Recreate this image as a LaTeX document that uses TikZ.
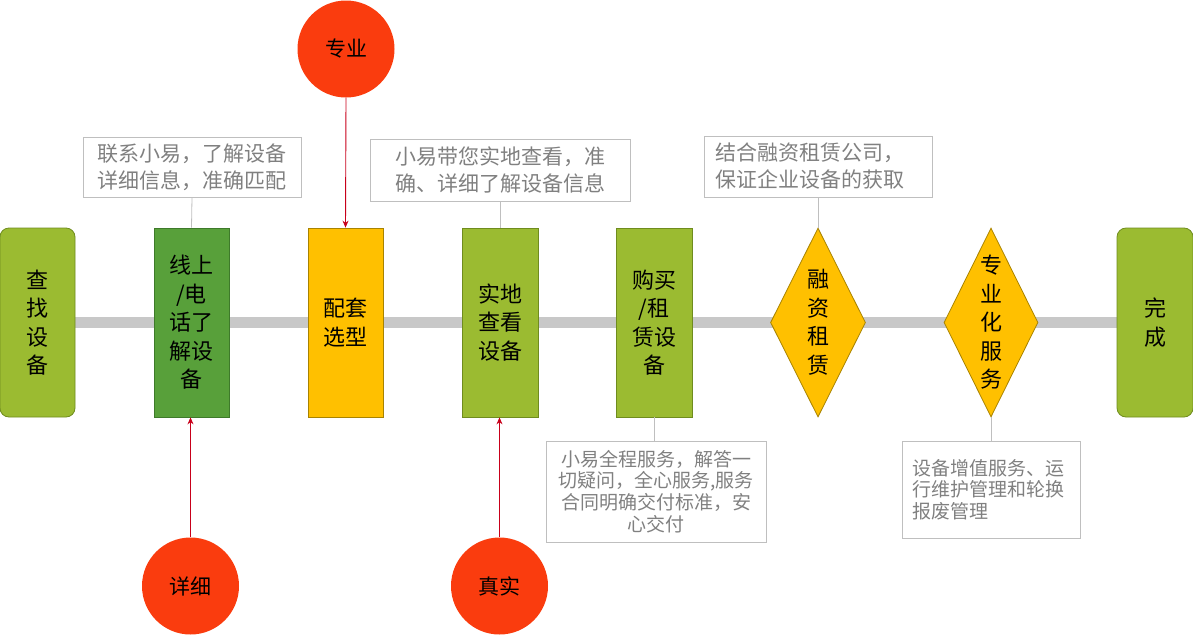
\documentclass[tikz,border=0pt]{standalone}
\usepackage{fontspec}
\setmainfont{Noto Sans CJK SC}
\usetikzlibrary{shapes.geometric,arrows.meta,backgrounds}
\definecolor{cOlive}{HTML}{9BBB31}
\definecolor{cOliveD}{HTML}{6F8C1E}
\definecolor{cGreen}{HTML}{58A03A}
\definecolor{cGreenD}{HTML}{3E7A2A}
\definecolor{cYellow}{HTML}{FFC000}
\definecolor{cYellowD}{HTML}{A88300}
\definecolor{cRed}{HTML}{FA3C0E}
\definecolor{cArrow}{HTML}{C8001A}
\definecolor{cBar}{HTML}{C8C8C8}
\definecolor{cCallB}{HTML}{BFBFBF}
\definecolor{cCallT}{HTML}{808080}
\begin{document}
\begin{tikzpicture}[x=1pt,y=-1pt,
  stepbox/.style={rectangle, minimum width=75pt, minimum height=189pt, inner sep=0pt,
    align=center, text=black, line width=0.8pt, font=\fontsize{22}{28.5}\selectfont},
  olivebox/.style={stepbox, fill=cOlive, draw=cOliveD},
  greenbox/.style={stepbox, fill=cGreen, draw=cGreenD},
  yellowbox/.style={stepbox, fill=cYellow, draw=cYellowD},
  endbox/.style={olivebox, rounded corners=9pt},
  decision/.style={diamond, shape aspect=0.5, minimum width=95pt, minimum height=189pt,
    inner sep=0pt, fill=cYellow, draw=cYellowD, line width=0.8pt, align=center,
    text=black, font=\fontsize{22}{28.5}\selectfont},
  bubble/.style={circle, minimum size=97pt, inner sep=0pt, fill=cRed,
    text=black, font=\fontsize{21}{25}\selectfont},
  callout/.style={rectangle, draw=cCallB, line width=0.8pt, text=cCallT, inner sep=0pt},
  callline/.style={draw=cCallB, line width=0.8pt},
  redarrow/.style={draw=cArrow, line width=0.9pt, -{Stealth[length=7pt,width=6pt]}},
  bar/.style={draw=cBar, line width=11pt}
]
\useasboundingbox (0,0) rectangle (1193,635);

% main steps
\node[endbox] (find) at (37.5,322.5) {查\\找\\设\\备};
\node[greenbox] (online) at (191.5,322.5) {线上\\/电\\话了\\解设\\备};
\node[yellowbox] (match) at (345.5,322.5) {配套\\选型};
\node[olivebox, minimum width=76pt] (visit) at (500,322.5) {实地\\查看\\设备};
\node[olivebox, minimum width=76pt] (buy) at (654,322.5) {购买\\/租\\赁设\\备};
\node[decision] (fin) at (818,322.5) {融\\资\\租\\赁};
\node[decision, minimum width=94pt] (svc) at (991,322.5) {专\\业\\化\\服\\务};
\node[endbox, minimum width=76pt] (done) at (1155,322.5) {完\\成};

\begin{scope}[on background layer]
  \draw[bar] (find.center) -- (done.center);
\end{scope}

% callouts
\node[callout, minimum width=218pt, minimum height=60pt, align=center,
  font=\fontsize{21}{27}\selectfont] (c1) at (192,167)
  {联系小易，了解设备\\详细信息，准确匹配};
\node[callout, minimum width=260pt, minimum height=62pt, align=center,
  font=\fontsize{21}{27}\selectfont] (c2) at (500,170)
  {小易带您实地查看，准\\确、详细了解设备信息};
\node[callout, minimum width=228pt, minimum height=61pt, align=left,
  font=\fontsize{21}{27}\selectfont] (c3) at (818,166.5)
  {\makebox[206pt][l]{结合融资租赁公司，}\\保证企业设备的获取};
\node[callout, minimum width=220pt, minimum height=101pt, align=center,
  font=\fontsize{19}{21.7}\selectfont] (c4) at (656,491.5)
  {小易全程服务，解答一\\切疑问，全心服务,服务\\合同明确交付标准，安\\心交付};
\node[callout, minimum width=178pt, minimum height=97pt, align=left,
  font=\fontsize{19}{21.7}\selectfont] (c5) at (991,489.5)
  {\makebox[158pt][l]{设备增值服务、运}\\行维护管理和轮换\\报废管理};

\draw[callline] (c1.south) -- (online.north);
\draw[callline] (c2.south) -- (visit.north);
\draw[callline] (c3.south) -- (fin.north);
\draw[callline] (buy.south) -- (buy.south |- c4.north);
\draw[callline] (svc.south) -- (c5.north);

% bubbles
\node[bubble] (pro) at (346,49) {专业};
\node[bubble] (det) at (190.5,586) {详细};
\node[bubble] (real) at (499.5,586) {真实};

\draw[redarrow] (pro.south) -- (match.north);
\draw[redarrow] (det.north) -- (det.north |- online.south);
\draw[redarrow] (real.north) -- (real.north |- visit.south);
\end{tikzpicture}
\end{document}
